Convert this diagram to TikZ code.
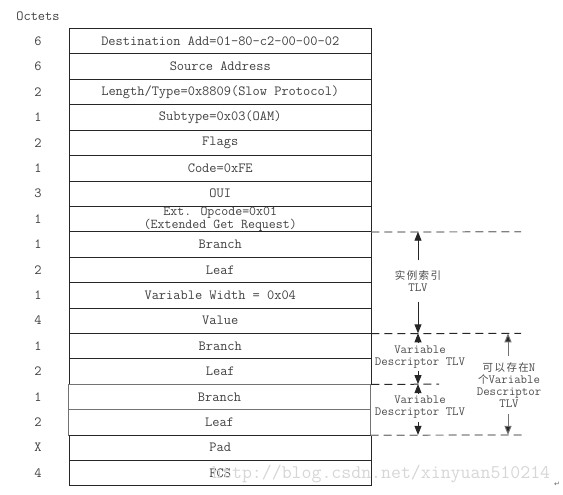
\documentclass[tikz,border=0pt]{standalone}
\usepackage{fontspec}
\newfontfamily\cjk[LetterSpace=14]{Noto Sans CJK SC}
\newfontfamily\dvs{DejaVu Sans}
\usetikzlibrary{arrows.meta}
\begin{document}
\begin{tikzpicture}[x=1pt,y=-1pt,
  row/.style={draw=black!85,line width=0.8pt,minimum width=301.5pt,minimum height=25.4pt,
    inner sep=0pt,text=black!75,font=\ttfamily\fontsize{14}{11}\selectfont,align=center},
  oct/.style={text=black!75,font=\ttfamily\fontsize{14}{14}\selectfont},
  ann/.style={text=black!70,font=\ttfamily\fontsize{12.5}{12}\selectfont,align=center,inner sep=3pt},
  dashk/.style={line width=1pt,black!85,dash pattern=on 8pt off 5pt},
  dashg/.style={line width=1.2pt,black!50,dash pattern=on 8pt off 5pt},
  arr/.style={line width=0.9pt,black!85,-{Triangle[length=9pt,width=7pt]}},
  arrg/.style={line width=1pt,black!55,-{Triangle[length=9pt,width=7pt,fill=black!85]}}]
\useasboundingbox (0,0) rectangle (563,495);
\node[oct] (head) at (38,16) {Octets};
% table rows
\node[row] (r1) at (220.25,41.2) {Destination Add=01-80-c2-00-00-02};
\node[row] (r2) at (220.25,66.6) {Source Address};
\node[row] (r3) at (220.25,92.0) {Length/Type=0x8809(Slow Protocol)};
\node[row] (r4) at (220.25,117.4) {Subtype=0x03(OAM)};
\node[row] (r5) at (220.25,142.8) {Flags};
\node[row] (r6) at (220.25,168.2) {Code=0xFE};
\node[row] (r7) at (220.25,193.6) {OUI};
\node[row] (r8) at (220.25,219.0) {};
\node[text=black!75,font=\ttfamily\fontsize{13.5}{10.5}\selectfont,align=center,inner sep=0pt] (r8t) at (220.25,219.6) {Ext. Opcode=0x01\\(Extended Get Request)};
\node[row] (r9) at (220.25,244.4) {Branch};
\node[row] (r10) at (220.25,269.8) {Leaf};
\node[row] (r11) at (220.25,295.2) {Variable Width = 0x04};
\node[row] (r12) at (220.25,320.6) {Value};
\node[row] (r13) at (220.25,346.0) {Branch};
\node[row] (r14) at (220.25,371.4) {Leaf};
\node[row,draw=black!55] (r15) at (219.5,396.8) {Branch};
\node[row,draw=black!55] (r16) at (219.5,422.2) {Leaf};
\node[row] (r17) at (220.25,447.6) {Pad};
\node[row] (r18) at (220.25,473.0) {FCS};
% octet counts
\node[oct] (o1) at (38,41.2) {6};
\node[oct] (o2) at (38,66.6) {6};
\node[oct] (o3) at (38,92.0) {2};
\node[oct] (o4) at (38,117.4) {1};
\node[oct] (o5) at (38,142.8) {2};
\node[oct] (o6) at (38,168.2) {1};
\node[oct] (o7) at (38,193.6) {3};
\node[oct] (o8) at (38,219.0) {1};
\node[oct] (o9) at (38,244.4) {1};
\node[oct] (o10) at (38,269.8) {2};
\node[oct] (o11) at (38,295.2) {1};
\node[oct] (o12) at (38,320.6) {4};
\node[oct] (o13) at (38,346.0) {1};
\node[oct] (o14) at (38,371.4) {2};
\node[oct] (o15) at (38,396.8) {1};
\node[oct] (o16) at (38,422.2) {2};
\node[oct] (o17) at (38,447.6) {X};
\node[oct] (o18) at (38,473.0) {4};
% dashed guide lines
\coordinate (d1) at (521,231.7);
\coordinate (d2) at (521,333.3);
\coordinate (d3) at (439,384.1);
\coordinate (d4) at (522,434.9);
\draw[dashg] (r8.south east) -- (d1);
\draw[dashk] (r12.south east) -- (d2);
\draw[dashk] (r14.south east) -- (d3);
\draw[dashg] (r16.south east) -- (d4);
% arrow end points
\coordinate (a1) at (418,231.7);
\coordinate (a2) at (418,333.3);
\coordinate (a3) at (418,384.1);
\coordinate (a4) at (418,434.9);
\coordinate (b1) at (508,333.3);
\coordinate (b2) at (508,434.9);
% annotations
\node[ann,inner sep=0pt] (t1) at (418,281) {{\cjk\fontsize{10.5}{13}\selectfont 实例索引}\\TLV};
\draw[arr] ([yshift=10pt]t1.north) -- (a1);
\draw[arr] ([yshift=-10pt]t1.south) -- (a2);
\node[ann] (t2) at (420,357) {Variable\\Descriptor TLV};
\draw[arr] (t2.north -| a2) -- (a2);
\draw[arr] (t2.south -| a3) -- (a3);
\node[ann] (t3) at (420,407.5) {Variable\\Descriptor TLV};
\draw[arr] (t3.north -| a3) -- (a3);
\draw[arr] (t3.south -| a4) -- (a4);
\node[ann,inner sep=0pt] (t4) at (509,385) {{\cjk\fontsize{10.5}{12}\selectfont 可以存在}N\\{\cjk\fontsize{10.5}{12}\selectfont 个}Variable\\Descriptor\\TLV};
\draw[arrg] ([yshift=6pt]t4.north -| b1) -- (b1);
\draw[arrg] ([yshift=-6pt]t4.south -| b2) -- (b2);
% watermark
\node[anchor=west,inner sep=0pt,text=black!16,font=\ttfamily\fontsize{19.3}{19.3}\selectfont] (wm) at (212,474) {http://blog.csdn.net/xinyuan510214};
\node[inner sep=0pt,text=black!60,font=\dvs\fontsize{7}{7}\selectfont] (ret) at (557,484) {↵};
\end{tikzpicture}
\end{document}
